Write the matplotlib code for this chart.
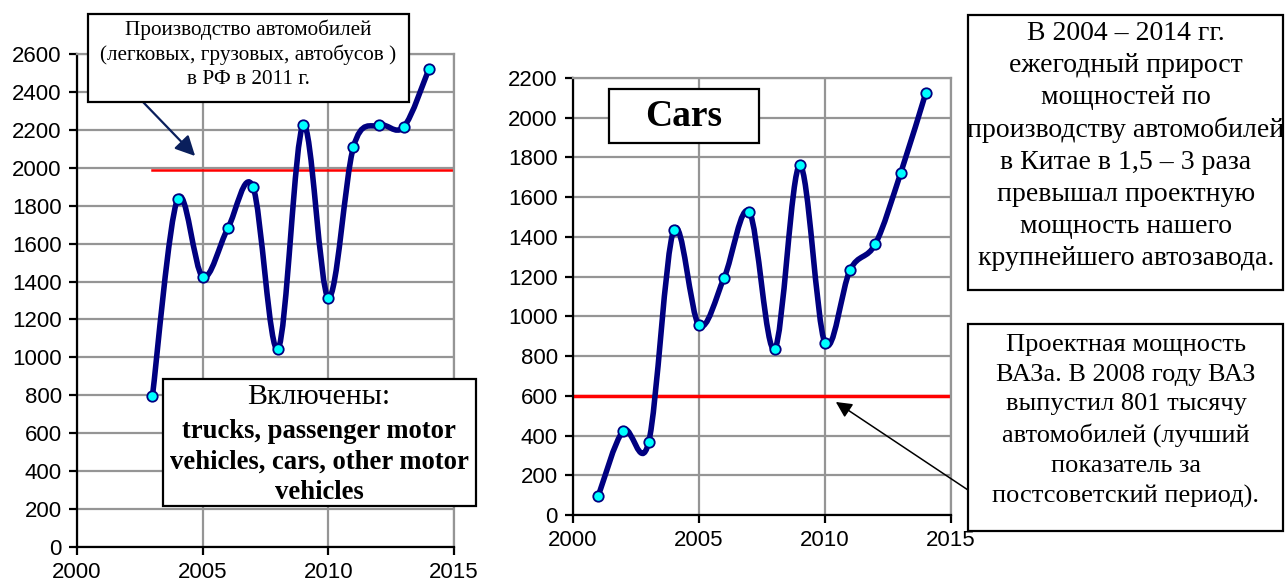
import numpy as np
import matplotlib
matplotlib.use("Agg")
import matplotlib.pyplot as plt
from matplotlib.path import Path
from matplotlib.patches import PathPatch, Rectangle

# data
years_all = [2003, 2004, 2005, 2006, 2007, 2008, 2009, 2010, 2011, 2012, 2013, 2014]
values_all = [795, 1835, 1425, 1680, 1900, 1045, 2225, 1315, 2110, 2225, 2215, 2520]
level_all = 1990

years_cars = [2001, 2002, 2003, 2004, 2005, 2006, 2007, 2008, 2009, 2010, 2011, 2012, 2013, 2014]
values_cars = [95, 425, 365, 1435, 955, 1195, 1525, 835, 1760, 865, 1235, 1365, 1720, 2125]
level_vaz = 600

W, H = 1286, 581
NAVY = "#000080"
GRID = "#959595"
plt.rcParams["font.family"] = ["Liberation Sans", "DejaVu Sans"]
SERIF = ["Liberation Serif", "DejaVu Serif"]

fig = plt.figure(figsize=(W / 100, H / 100), dpi=100)


def fx(x):
    return x / W


def fy(y):
    return 1 - y / H


def smooth_path(xs, ys):
    # cubic bezier through the points (like Excel "smoothed line")
    pts = np.column_stack([xs, ys]).astype(float)
    verts = [pts[0]]
    codes = [Path.MOVETO]
    n = len(pts)
    for i in range(n - 1):
        p0 = pts[max(i - 1, 0)]
        p1 = pts[i]
        p2 = pts[i + 1]
        p3 = pts[min(i + 2, n - 1)]
        verts += [p1 + (p2 - p0) / 6, p2 - (p3 - p1) / 6, p2]
        codes += [Path.CURVE4] * 3
    return Path(verts, codes)


def setup_axes(ax, ymax):
    ax.set_xlim(2000, 2015)
    ax.set_ylim(0, ymax)
    ax.set_xticks(range(2000, 2016, 5))
    ax.set_yticks(range(0, ymax + 1, 200))
    ax.grid(True, color=GRID, lw=1.6)
    ax.set_axisbelow(True)
    for s in ["left", "bottom"]:
        ax.spines[s].set_color("black")
        ax.spines[s].set_linewidth(1.6)
    for s in ["top", "right"]:
        ax.spines[s].set_color(GRID)
        ax.spines[s].set_linewidth(1.6)
    ax.tick_params(direction="out", length=6, width=1.6, labelsize=16, pad=5)


def draw_series(ax, xs, ys):
    ax.add_patch(PathPatch(smooth_path(xs, ys), facecolor="none", edgecolor=NAVY,
                           lw=4.0, capstyle="round", joinstyle="round", zorder=3))
    ax.plot(xs, ys, ls="none", marker="o", ms=7.5, mfc="#00ffff", mec=NAVY, mew=1.3, zorder=4)


def box(x0, y0, x1, y1):
    r = Rectangle((fx(x0), fy(y1)), fx(x1 - x0), (y1 - y0) / H, transform=fig.transFigure,
                  facecolor="white", edgecolor="black", lw=1.6, zorder=10)
    fig.add_artist(r)


# left chart: all motor vehicles
ax1 = fig.add_axes([fx(77), fy(547), fx(454 - 77), (547 - 54) / H])
setup_axes(ax1, 2600)
ax1.plot([2003, 2015], [level_all, level_all], color="red", lw=1.8, zorder=2)
draw_series(ax1, years_all, values_all)

# right chart: cars
ax2 = fig.add_axes([fx(573), fy(515), fx(951 - 573), (515 - 78) / H])
setup_axes(ax2, 2200)
ax2.plot([2000, 2015], [level_vaz, level_vaz], color="red", lw=2.5, zorder=2)
draw_series(ax2, years_cars, values_cars)

# text boxes
box(88, 14, 409, 102)
fig.text(fx(248), fy(54), "Производство автомобилей\n(легковых, грузовых, автобусов )\nв РФ в 2011 г.",
         ha="center", va="center", family=SERIF, fontsize=15.3, linespacing=1.33, zorder=11)
ax1.annotate("", xy=(2004.7, 2062), xycoords="data", xytext=(fx(143), fy(102)),
             textcoords="figure fraction", annotation_clip=False,
             arrowprops=dict(arrowstyle="-|>", color="#0a1f5c", lw=1.6, mutation_scale=30,
                             shrinkA=0, shrinkB=0), zorder=12)

box(163, 379, 476, 506)
fig.text(fx(319), fy(397), "Включены:", ha="center", va="center", family=SERIF, fontsize=21.5, zorder=11)
fig.text(fx(319), fy(462), "trucks, passenger motor\nvehicles, cars, other motor\nvehicles",
         ha="center", va="center", family=SERIF, fontsize=19.2, fontweight="bold",
         linespacing=1.28, zorder=11)

box(609, 89, 759, 143)
fig.text(fx(684), fy(117), "Cars", ha="center", va="center", family=SERIF, fontsize=27,
         fontweight="bold", zorder=11)

box(968, 15, 1283, 290)
fig.text(fx(1126), fy(146), "В 2004 – 2014 гг.\nежегодный прирост\nмощностей по\nпроизводству автомобилей\n"
         "в Китае в 1,5 – 3 раза\nпревышал проектную\nмощность нашего\nкрупнейшего автозавода.",
         ha="center", va="center", family=SERIF, fontsize=20, linespacing=1.36, zorder=11)

box(968, 324, 1283, 531)
fig.text(fx(1126), fy(421), "Проектная мощность\nВАЗа. В 2008 году ВАЗ\nвыпустил 801 тысячу\n"
         "автомобилей (лучший\nпоказатель за\nпостсоветский период).",
         ha="center", va="center", family=SERIF, fontsize=19, linespacing=1.45, zorder=11)
ax2.annotate("", xy=(2010.43, 569), xycoords="data", xytext=(fx(968), fy(490)),
             textcoords="figure fraction", annotation_clip=False,
             arrowprops=dict(arrowstyle="-|>", color="black", lw=1.1, mutation_scale=24,
                             shrinkA=0, shrinkB=0), zorder=12)

fig.savefig("out.png", dpi=100)
